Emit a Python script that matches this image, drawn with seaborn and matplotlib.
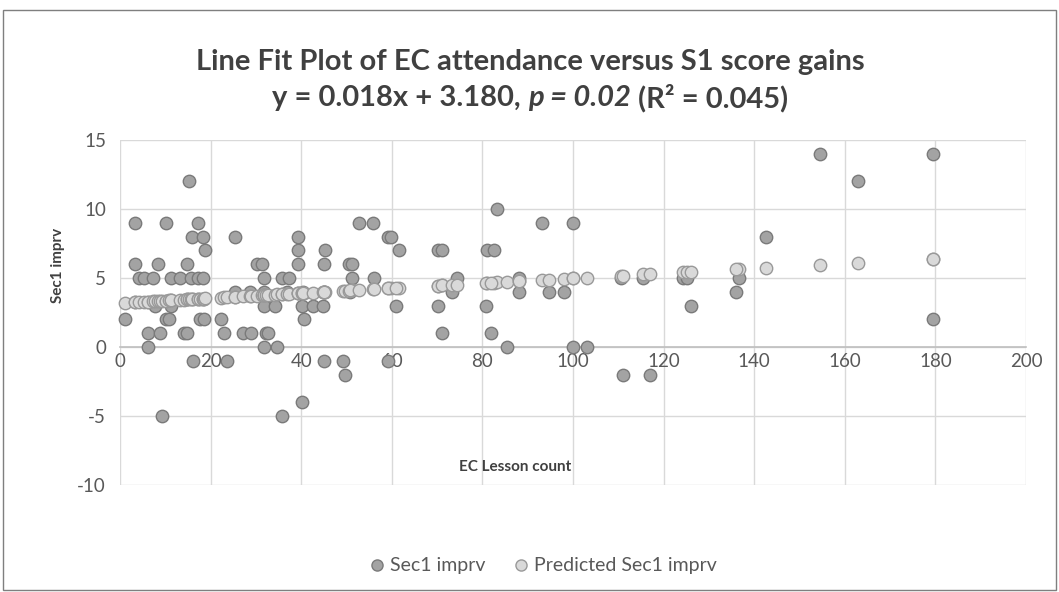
import numpy as np
import pandas as pd
import seaborn as sns
import matplotlib.pyplot as plt
from matplotlib.patches import Rectangle
from matplotlib.lines import Line2D

# EC lesson count (x) and Sec1 improvement (y)
ec_lessons = [1.1, 3.3, 3.3, 4.2, 5.3, 6.2, 6.2, 7.3, 7.7, 8.4, 8.8, 9.3, 10.2, 10.2, 10.8,
              11.3, 11.3, 13.2, 14.1, 14.8, 14.8, 15.2, 15.7, 16.1, 16.0, 17.2, 17.2, 17.7,
              18.3, 18.3, 18.5, 18.8,
              22.3, 23.0, 23.6, 25.4, 25.4, 27.2, 28.7, 28.9, 30.2, 31.3, 31.8, 31.8, 31.8,
              31.8, 32.2, 32.7, 34.2, 34.7, 35.8, 35.8, 36.9, 37.3, 39.3, 39.3, 39.3,
              40.2, 40.2, 40.6, 40.4, 42.6, 44.8, 45.0, 45.3, 45.0, 45.0, 49.2, 49.7, 50.6,
              51.2, 51.2, 50.8, 52.8, 55.8, 56.1, 59.2, 59.8, 59.2, 61.6, 61.0,
              70.2, 71.0, 70.2, 71.0, 73.3, 74.4, 81.0, 82.6, 83.2, 80.8, 82.0, 85.4, 88.1, 88.1,
              93.2, 94.7, 98.0, 100.0, 100.0, 103.0, 110.6, 111.0, 115.5, 117.0, 124.3, 125.2,
              126.0, 136.6, 136.0,
              142.6, 154.5, 163.0, 179.5, 179.5]
sec1_imprv = [2, 9, 6, 5, 5, 1, 0, 5, 3, 6, 1, -5, 9, 2, 2,
              5, 3, 5, 1, 1, 6, 12, 5, -1, 8, 9, 5, 2,
              8, 5, 2, 7,
              2, 1, -1, 8, 4, 1, 4, 1, 6, 6, 5, 4, 3,
              0, 1, 1, 3, 0, 5, -5, 4, 5, 8, 7, 6,
              3, -4, 2, 4, 3, 3, 4, 7, 6, -1, -1, -2, 6,
              6, 5, 4, 9, 9, 5, 8, 8, -1, 7, 3,
              7, 7, 3, 1, 4, 5, 7, 7, 10, 3, 1, 0, 5, 4,
              9, 4, 4, 9, 0, 0, 5, -2, 5, -2, 5, 5,
              3, 5, 4,
              8, 14, 12, 14, 2]

# fitted line given in the chart title
slope = 0.018
intercept = 3.180

df = pd.DataFrame({"EC Lesson count": ec_lessons, "Sec1 imprv": sec1_imprv})
df["Predicted Sec1 imprv"] = slope * df["EC Lesson count"] + intercept

sns.set_theme(style="white")
plt.rcParams['font.family'] = ['Lato', 'DejaVu Sans']
plt.rcParams['axes.unicode_minus'] = False

W, H = 1059, 592
fig = plt.figure(figsize=(W / 100, H / 100), dpi=100)
ax = fig.add_axes([120 / W, 1 - 485 / H, (1026 - 120) / W, (485 - 140) / H])

dark_fill, dark_edge = "#a3a3a3", "#7a7a7a"
light_fill, light_edge = "#d9d9d9", "#999999"
msize = 80

sns.scatterplot(data=df, x="EC Lesson count", y="Sec1 imprv", ax=ax, s=msize,
                color=dark_fill, edgecolor=dark_edge, linewidth=1, zorder=3, clip_on=False)
sns.scatterplot(data=df, x="EC Lesson count", y="Predicted Sec1 imprv", ax=ax, s=msize,
                color=light_fill, edgecolor=light_edge, linewidth=1, zorder=4, clip_on=False)

ax.set_xlim(0, 200)
ax.set_ylim(-10, 15)
ax.set_xticks(np.arange(0, 201, 20))
ax.set_yticks(np.arange(-10, 16, 5))
ax.grid(True, color="#d9d9d9", linewidth=1)
ax.set_axisbelow(True)
for side in ["top", "right", "left"]:
    ax.spines[side].set_visible(False)
ax.spines["bottom"].set_position(("data", 0))
ax.spines["bottom"].set_color("#bfbfbf")
ax.spines["bottom"].set_linewidth(1.2)
ax.tick_params(axis="both", length=0, labelsize=13.5, labelcolor="#595959")
ax.tick_params(axis="x", pad=4)
ax.tick_params(axis="y", pad=10)
ax.set_xlabel("")
ax.set_ylabel("")

fig.text(515 / W, 1 - 467 / H, "EC Lesson count", ha="center", va="center",
         fontsize=11, fontweight="bold", color="#404040")
fig.text(58 / W, 1 - 265 / H, "Sec1 imprv", ha="center", va="center", rotation=90,
         fontsize=11, fontweight="bold", color="#404040")

# title
fig.text(530 / W, 1 - 62 / H, "Line Fit Plot of EC attendance versus S1 score gains",
         ha="center", va="center", fontsize=21, fontweight="bold", color="#404040")

runs = [("y = 0.018x + 3.180,\u00a0", "normal"), ("p = 0.02", "italic"),
        ("\u00a0(R\u00b2 = 0.045)", "normal")]
renderer = fig.canvas.get_renderer()
texts, widths = [], []
for s, st in runs:
    t = fig.text(0, 1 - 98 / H, s, ha="left", va="center", fontsize=21,
                 fontweight="bold", fontstyle=st, color="#404040")
    texts.append(t)
    widths.append(t.get_window_extent(renderer).width)
x0 = 530 - sum(widths) / 2
for t, w in zip(texts, widths):
    t.set_x(x0 / W)
    x0 += w

handles = [Line2D([], [], marker="o", linestyle="", markersize=8,
                  markerfacecolor=dark_fill, markeredgecolor=dark_edge),
           Line2D([], [], marker="o", linestyle="", markersize=8,
                  markerfacecolor=light_fill, markeredgecolor=light_edge)]
leg = fig.legend(handles, ["Sec1 imprv", "Predicted Sec1 imprv"], loc="center",
                 bbox_to_anchor=(543 / W, 1 - 566 / H), ncol=2, frameon=False,
                 fontsize=14, handlelength=0.8, handletextpad=0.3, columnspacing=1.4)
for txt in leg.get_texts():
    txt.set_color("#595959")

fig.patches.append(Rectangle((3 / W, 2 / H), (W - 6) / W, (H - 12) / H,
                             transform=fig.transFigure, fill=False,
                             edgecolor="#7f7f7f", linewidth=1))

fig.savefig("out.png", dpi=100)
